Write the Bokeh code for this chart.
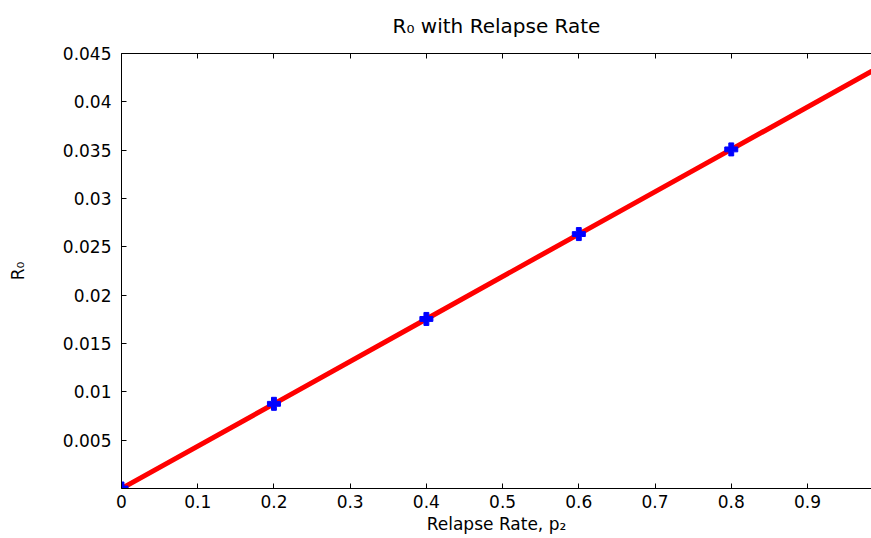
from bokeh.plotting import figure
from bokeh.models import Range1d, FixedTicker, LinearAxis, CustomLabelingPolicy
from bokeh.embed import file_html
from bokeh.resources import INLINE

# ---- data ----
p2_points = [0.0, 0.2, 0.4, 0.6, 0.8]
r0_points = [0.0, 0.00876, 0.01754, 0.02632, 0.03508]

p2_curve = [0.0, 0.2, 0.4, 0.6, 0.8, 1.0]
r0_curve = [0.0, 0.00876, 0.01754, 0.02632, 0.03508, 0.04386]

x_ticks = [0.0, 0.1, 0.2, 0.3, 0.4, 0.5, 0.6, 0.7, 0.8, 0.9]
x_tick_labels = ["0", "0.1", "0.2", "0.3", "0.4", "0.5", "0.6", "0.7", "0.8", "0.9"]
y_ticks = [0.005, 0.01, 0.015, 0.02, 0.025, 0.03, 0.035, 0.04, 0.045]
y_tick_labels = ["0.005", "0.01", "0.015", "0.02", "0.025", "0.03", "0.035", "0.04", "0.045"]

title_text = "R\u2080 with Relapse Rate"
x_label = "Relapse Rate, p\u2082"
y_label = "R\u2080"

FONT = "DejaVu Sans"

p = figure(width=871, height=538,
           x_range=Range1d(0, 0.984), y_range=Range1d(0, 0.045),
           output_backend="svg", toolbar_location=None,
           min_border_left=121, min_border_right=0,
           min_border_top=52, min_border_bottom=50,
           title=title_text)

p.title.text_font = FONT
p.title.text_font_size = "20px"
p.title.text_font_style = "normal"
p.title.align = "center"
p.title.text_color = "black"
p.title.standoff = 23

p.outline_line_color = None
p.xgrid.grid_line_color = None
p.ygrid.grid_line_color = None
p.background_fill_color = "white"
p.border_fill_color = "white"

# curve then markers
p.line(p2_curve, r0_curve, line_color="#FF0000", line_width=5)
p.scatter(p2_points, r0_points, marker="plus", size=13,
          fill_color="#0000FF", line_color="#0000FF", line_width=1)

def style_axis(ax):
    ax.axis_line_color = "black"
    ax.axis_line_width = 1
    ax.major_tick_line_color = "black"
    ax.major_tick_in = 5
    ax.major_tick_out = 0
    ax.minor_tick_line_color = None
    ax.major_label_text_font = FONT
    ax.major_label_text_font_size = "17px"
    ax.major_label_text_color = "black"
    ax.axis_label_text_font = FONT
    ax.axis_label_text_font_size = "17px"
    ax.axis_label_text_font_style = "normal"
    ax.axis_label_text_color = "black"

xa = p.xaxis[0]
style_axis(xa)
xa.ticker = FixedTicker(ticks=x_ticks)
xa.major_label_overrides = dict(zip(x_ticks, x_tick_labels))
xa.axis_label = x_label
xa.major_label_standoff = 6
xa.axis_label_standoff = 3

ya = p.yaxis[0]
style_axis(ya)
ya.ticker = FixedTicker(ticks=y_ticks)
ya.major_label_overrides = dict(zip(y_ticks, y_tick_labels))
ya.axis_label = y_label
ya.major_label_standoff = 10
ya.axis_label_standoff = 32

top = LinearAxis(ticker=FixedTicker(ticks=x_ticks))
style_axis(top)
top.major_label_standoff = 0
top.major_label_text_font_size = "1px"
top.major_label_policy = CustomLabelingPolicy(
    code="for (const i of Array.from(indices)) { indices.unset(i) }")
p.add_layout(top, "above")

open("out.html", "w").write(file_html(p, INLINE))
